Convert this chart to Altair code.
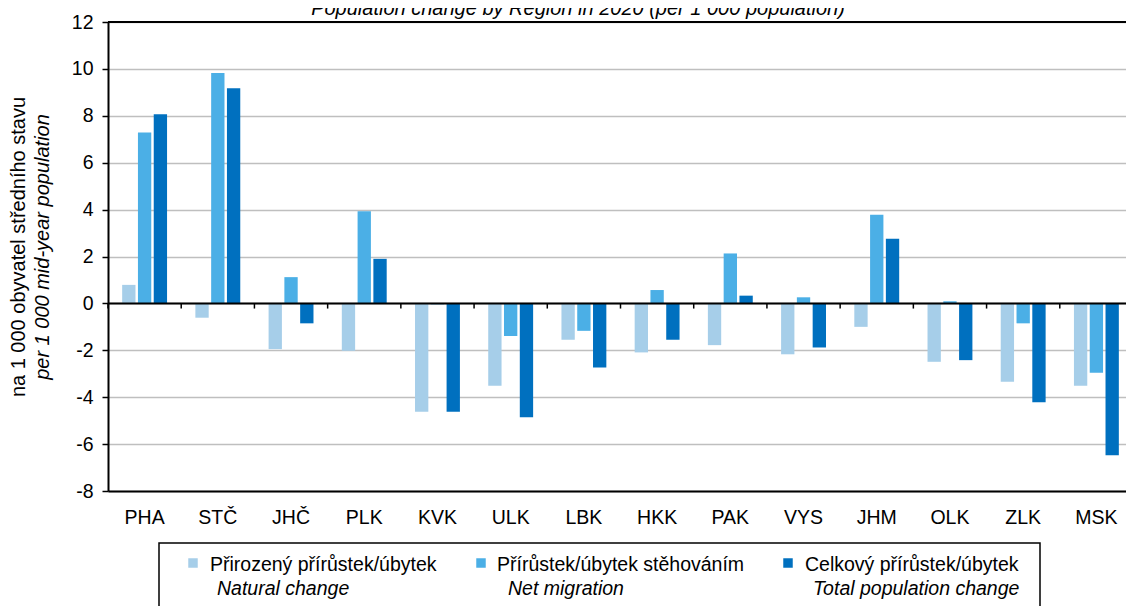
import altair as alt
import pandas as pd

# ---- data ----
regions = ["PHA", "STČ", "JHČ", "PLK", "KVK", "ULK", "LBK", "HKK", "PAK", "VYS", "JHM", "OLK", "ZLK", "MSK"]
natural = [0.79, -0.61, -1.95, -2.02, -4.62, -3.51, -1.55, -2.09, -1.78, -2.17, -1.00, -2.49, -3.34, -3.51]
migration = [7.29, 9.82, 1.12, 3.93, -0.04, -1.39, -1.17, 0.57, 2.13, 0.26, 3.78, 0.09, -0.85, -2.96]
total = [8.07, 9.18, -0.85, 1.90, -4.62, -4.86, -2.73, -1.55, 0.33, -1.88, 2.76, -2.42, -4.22, -6.48]

series_cz = ["Přirozený přírůstek/úbytek", "Přírůstek/úbytek stěhováním", "Celkový přírůstek/úbytek"]
series_en = ["Natural change", "Net migration", "Total population change"]
colors = ["#A6CEE9", "#4BAFE6", "#0070BF"]
y_ticks = [-8, -6, -4, -2, 0, 2, 4, 6, 8, 10, 12]
title_text = "Population change by Region in 2020 (per 1 000 population)"
ytitle_cz = "na 1 000 obyvatel středního stavu"
ytitle_en = "per 1 000 mid-year population"

rows = []
for s, vals in zip(series_cz, [natural, migration, total]):
    for r, v in zip(regions, vals):
        rows.append({"region": r, "series": s, "value": v})
df = pd.DataFrame(rows)
one = pd.DataFrame({"k": [0]})
reg_df = pd.DataFrame({"region": regions})

FONT = "Liberation Sans"
FS = 19.5
W, H = 1025, 469

y_scale = alt.Scale(domain=[-8, 12], nice=False)

x_enc = alt.X(
    "region:N", sort=regions,
    scale=alt.Scale(paddingInner=0, paddingOuter=0),
    axis=alt.Axis(title=None, labelAngle=0, ticks=False, tickSize=0, labelPadding=32,
                  labelBaseline="alphabetic", labelFontSize=FS, labelFont=FONT,
                  labelColor="#000", domainColor="#000", domainWidth=2, grid=False),
)
y_enc = alt.Y(
    "value:Q", scale=y_scale,
    axis=alt.Axis(title=None, values=y_ticks, grid=True, gridColor="#BFBFBF", gridWidth=1.5,
                  domainColor="#000", domainWidth=2, tickColor="#000", tickSize=6, tickWidth=1.5,
                  labelPadding=9, labelFontSize=FS, labelFont=FONT, labelColor="#000",
                  labelExpr="datum.value < 0 ? '-' + abs(datum.value) : '' + datum.value"),
)

bars = alt.Chart(df).mark_bar().encode(
    x=x_enc,
    xOffset=alt.XOffset("series:N", sort=series_cz,
                        scale=alt.Scale(paddingInner=0.156, paddingOuter=0.897)),
    y=y_enc,
    color=alt.Color("series:N", sort=series_cz,
                    scale=alt.Scale(domain=series_cz, range=colors), legend=None),
)

top_rule = alt.Chart(one).mark_rule(color="#000", strokeWidth=2).encode(y=alt.datum(12))
zero_rule = alt.Chart(one).mark_rule(color="#000", strokeWidth=2).encode(y=alt.datum(0))
zero_ticks = alt.Chart(reg_df).mark_rule(color="#000", strokeWidth=1.5).encode(
    x=alt.X("region:N", sort=regions, bandPosition=0),
    y=alt.datum(0), y2=alt.datum(-0.22),
)

title = alt.Chart(one).mark_text(
    text=title_text, font=FONT, fontSize=20, fontStyle="italic", color="#000",
    align="center", baseline="alphabetic",
).encode(x=alt.value(470), y=alt.value(-7))

yt1 = alt.Chart(one).mark_text(
    text=ytitle_cz, font=FONT, fontSize=20, color="#000", angle=270,
    align="center", baseline="middle",
).encode(x=alt.value(-89), y=alt.value(225))
yt2 = alt.Chart(one).mark_text(
    text=ytitle_en, font=FONT, fontSize=20, fontStyle="italic", color="#000", angle=270,
    align="center", baseline="middle",
).encode(x=alt.value(-65), y=alt.value(225))

legend_box = alt.Chart(one).mark_rect(fill="transparent", stroke="#000", strokeWidth=1.5).encode(
    x=alt.value(51), x2=alt.value(932), y=alt.value(521), y2=alt.value(600)
)

legend_layers = []
sw_x = [85, 373, 680]
cz_x = [102, 389, 697]
en_x = [109, 400, 705]
for i in range(3):
    legend_layers.append(
        alt.Chart(one).mark_square(size=90, color=colors[i], opacity=1).encode(
            x=alt.value(sw_x[i]), y=alt.value(541))
    )
    legend_layers.append(
        alt.Chart(one).mark_text(text=series_cz[i], font=FONT, fontSize=FS, color="#000",
                                 align="left", baseline="alphabetic").encode(
            x=alt.value(cz_x[i]), y=alt.value(549))
    )
    legend_layers.append(
        alt.Chart(one).mark_text(text=series_en[i], font=FONT, fontSize=FS, fontStyle="italic",
                                 color="#000", align="left", baseline="alphabetic").encode(
            x=alt.value(en_x[i]), y=alt.value(573))
    )

chart = alt.layer(
    bars, top_rule, zero_rule, zero_ticks, title, yt1, yt2, legend_box, *legend_layers
).properties(
    width=W, height=H,
    padding={"left": 100, "top": 14, "right": -7, "bottom": 115},
    autosize=alt.AutoSizeParams(type="none"),
).configure_view(stroke=None).configure(background="white")

chart.save("out.html", embed_options={"renderer": "svg", "actions": False})
